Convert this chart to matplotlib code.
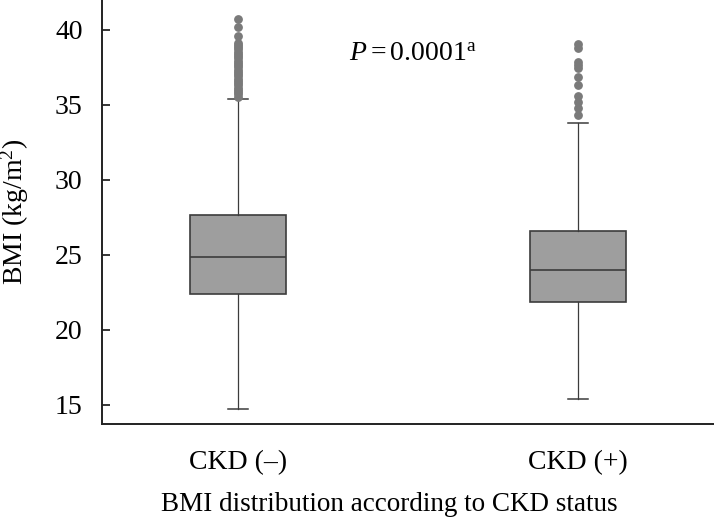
import matplotlib
matplotlib.use("Agg")
import matplotlib.pyplot as plt

plt.rcParams['font.family'] = ['Liberation Serif', 'DejaVu Serif']
plt.rcParams['mathtext.fontset'] = 'custom'
plt.rcParams['mathtext.rm'] = 'Liberation Serif'
plt.rcParams['mathtext.it'] = 'Liberation Serif:italic'

# box statistics
groups = ['CKD (\u2013)', 'CKD (+)']
q1 = [22.38, 21.87]
med = [24.85, 23.98]
q3 = [27.65, 26.62]
whis_lo = [14.75, 15.40]
whis_hi = [35.38, 33.82]
fliers_neg = [35.55, 35.7, 35.85, 36.0, 36.15, 36.3, 36.45, 36.6, 36.75, 36.9,
              37.05, 37.2, 37.35, 37.5, 37.65, 37.8, 37.95, 38.1, 38.25, 38.4,
              38.55, 38.7, 38.85, 39.0, 39.13, 39.62, 40.18, 40.73]
fliers_pos = [34.31, 34.78, 35.22, 35.62, 36.33, 36.85, 37.47, 37.67, 37.87,
              38.8, 39.05]

fliers = [fliers_neg, fliers_pos]
stats = []
for i in range(len(groups)):
    stats.append({'label': groups[i], 'q1': q1[i], 'med': med[i], 'q3': q3[i],
                  'whislo': whis_lo[i], 'whishi': whis_hi[i], 'fliers': fliers[i]})

fig = plt.figure(figsize=(7.14, 5.23), dpi=100)
ax = fig.add_axes([102 / 714, 99 / 523, 612 / 714, 424 / 523])

edge = '#3c3c3c'
ax.bxp(stats, positions=[1, 2], widths=0.28, capwidths=0.057, patch_artist=True,
       boxprops=dict(facecolor='#9e9e9e', edgecolor=edge, linewidth=1.2),
       medianprops=dict(color=edge, linewidth=1.2),
       whiskerprops=dict(color=edge, linewidth=0.9),
       capprops=dict(color=edge, linewidth=1.1),
       flierprops=dict(marker='o', markersize=5.3, markerfacecolor='#7a7a7a',
                       markeredgecolor='#7a7a7a'))

fs = 20
ax.set_xlim(0.6, 2.4)
ax.set_ylim(13.73, 42.0)
ax.set_yticks([15, 20, 25, 30, 35, 40])
ax.tick_params(axis='y', direction='in', length=6, width=1.1, labelsize=fs, pad=14)
ax.tick_params(axis='x', length=0, labelsize=fs, pad=19)
for s in ['top', 'right']:
    ax.spines[s].set_visible(False)
for s in ['left', 'bottom']:
    ax.spines[s].set_linewidth(1.4)
    ax.spines[s].set_color('#222222')

ax.set_ylabel('BMI (kg/m$^2$)', fontsize=fs, labelpad=17)
ax.set_xlabel('BMI distribution according to CKD status', fontsize=19.5,
              labelpad=12, x=0.47)
ax.text(1.515, 38.35, r'$P\mathrm{=0.0001}^{\mathrm{a}}$', fontsize=fs,
        ha='center', va='center')

fig.savefig('out.png', dpi=100)
